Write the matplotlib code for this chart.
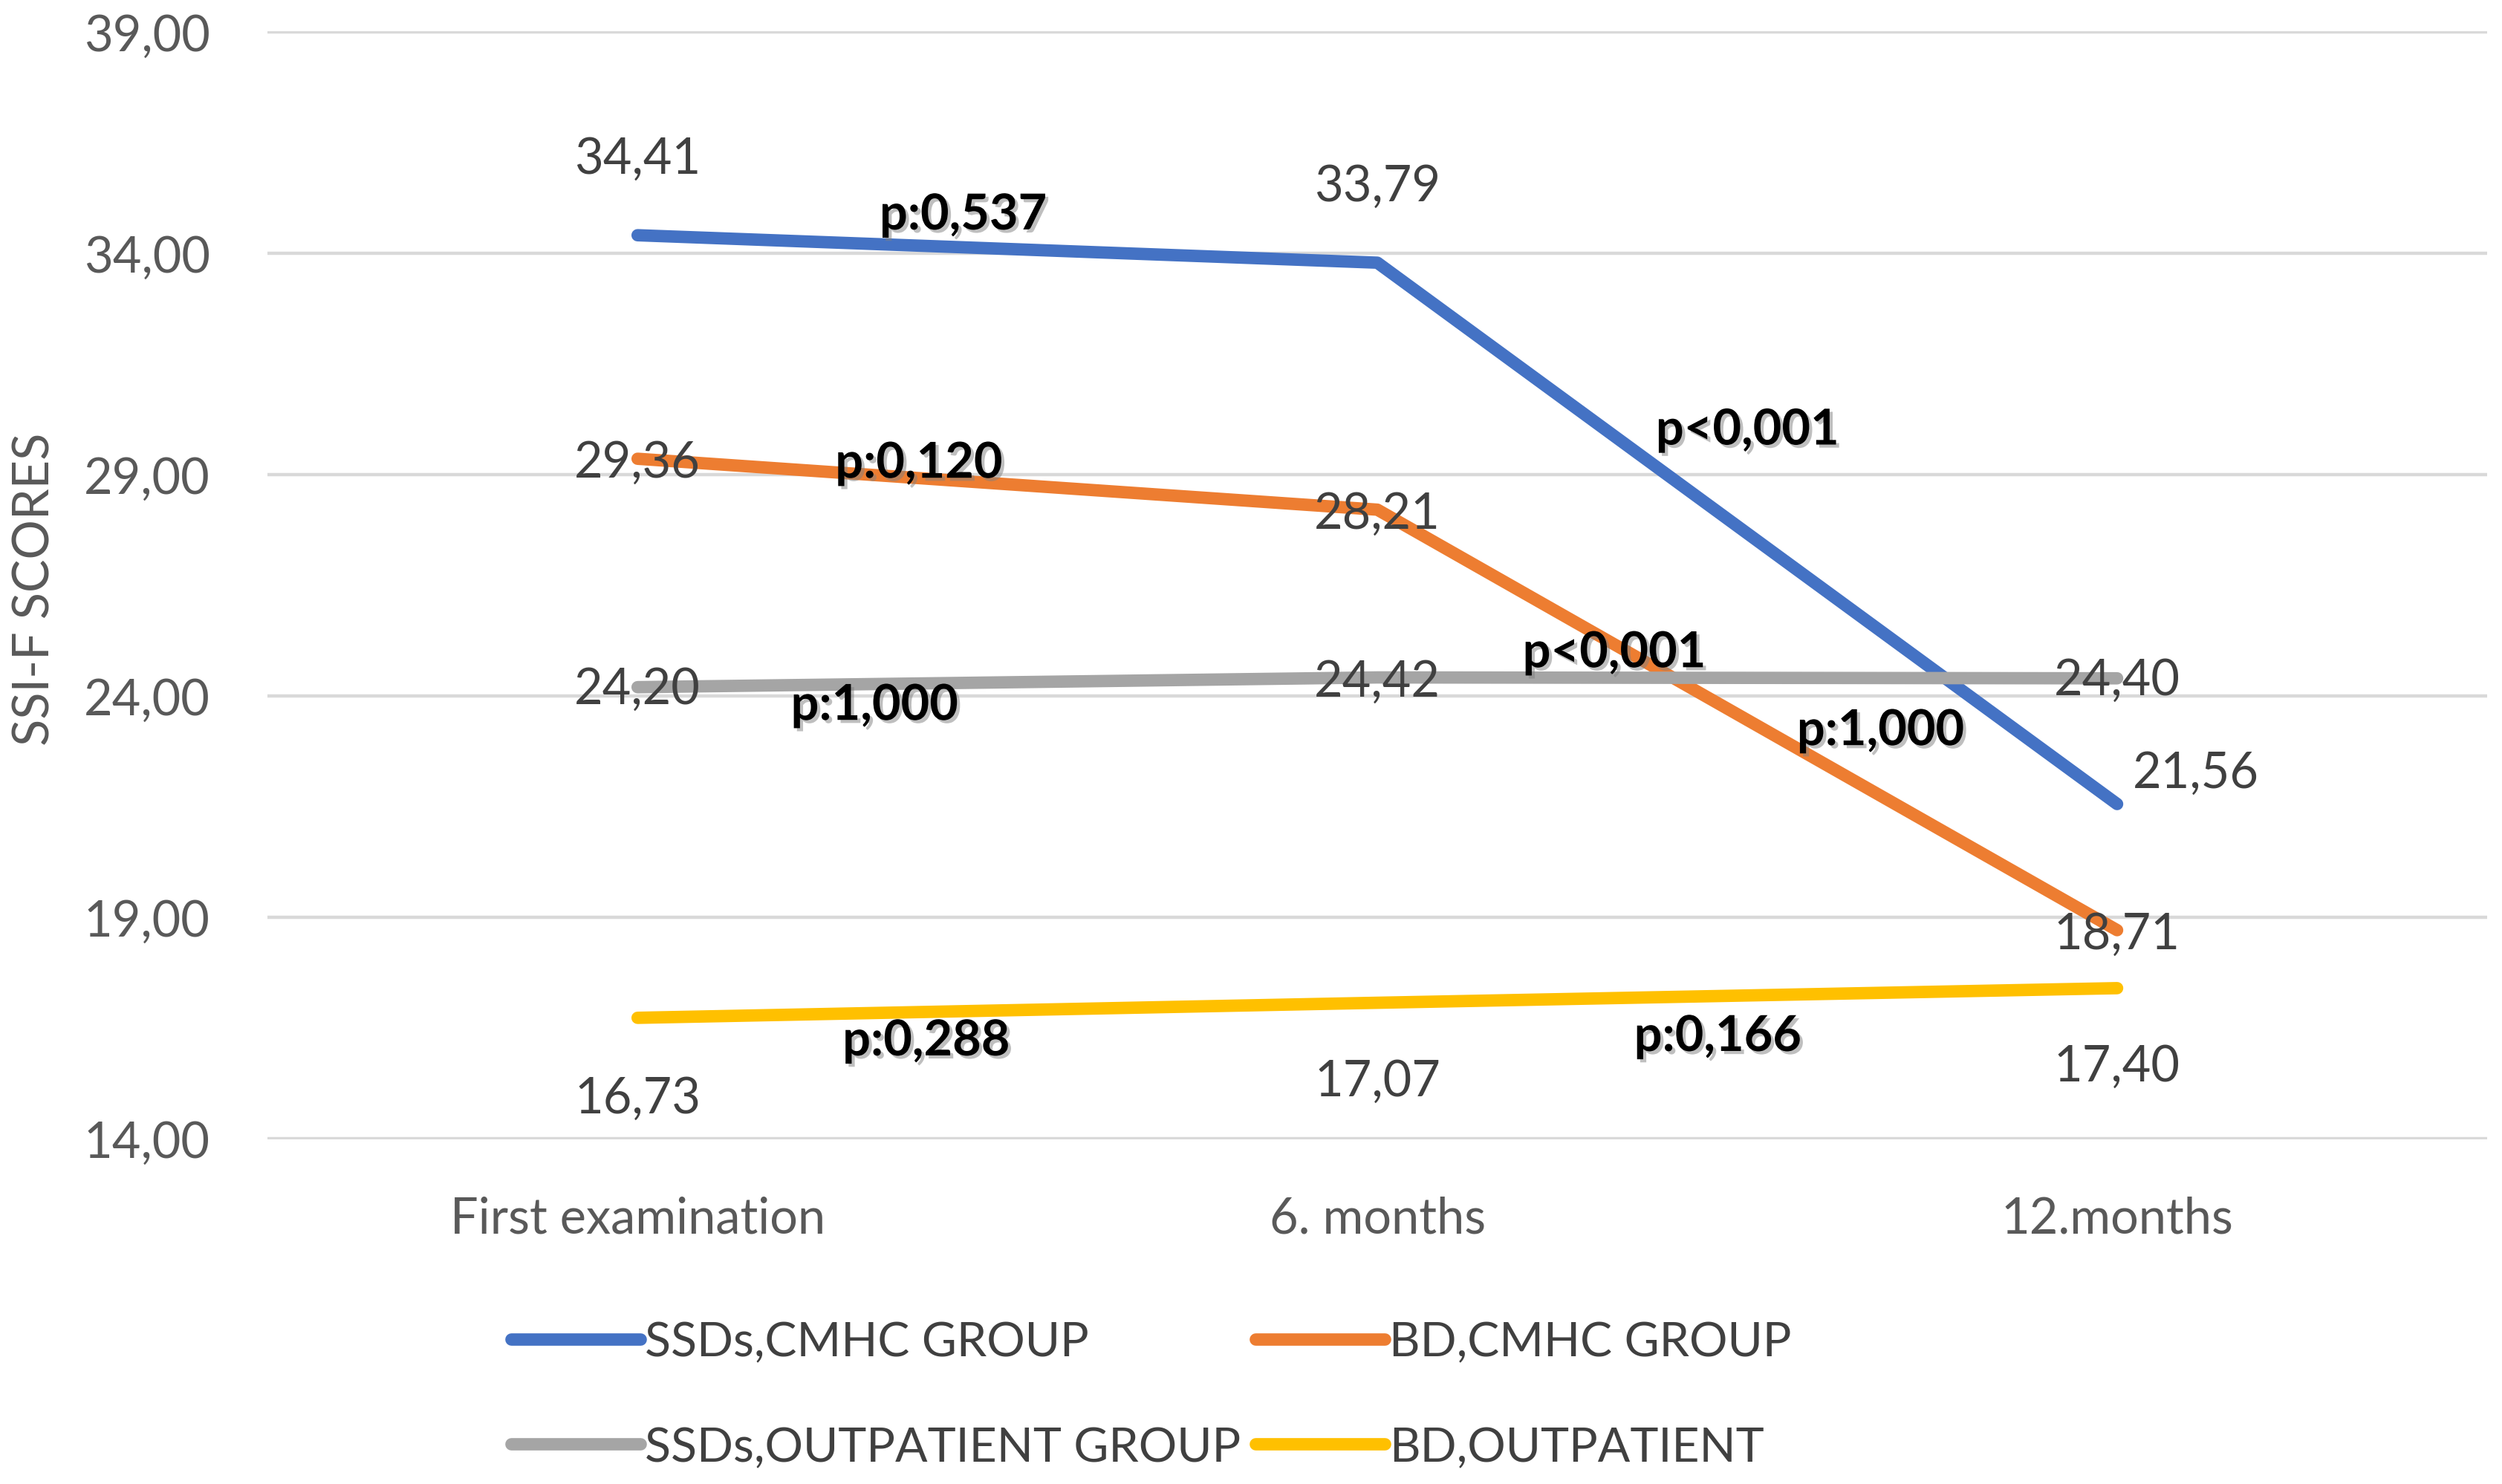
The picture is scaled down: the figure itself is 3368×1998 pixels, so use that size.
import matplotlib
matplotlib.use("Agg")
import matplotlib.pyplot as plt
import matplotlib.patheffects as pe

# ---- data ----
categories = ["First examination", "6. months", "12.months"]
ssds_cmhc = [34.41, 33.79, 21.56]
bd_cmhc = [29.36, 28.21, 18.71]
ssds_outpatient = [24.20, 24.42, 24.40]
bd_outpatient = [16.73, 17.07, 17.40]
series_names = ["SSDs,CMHC GROUP", "BD,CMHC GROUP", "SSDs,OUTPATIENT GROUP", "BD,OUTPATIENT"]
y_ticks = [14, 19, 24, 29, 34, 39]
y_tick_labels = ["14,00", "19,00", "24,00", "29,00", "34,00", "39,00"]
p_labels = ["p:0,537", "p<0,001", "p:0,120", "p<0,001", "p:1,000", "p:1,000", "p:0,288", "p:0,166"]
p_label_pos = [(0.44, 34.86), (1.50, 30.0), (0.38, 29.25), (1.32, 24.97),
               (0.32, 23.78), (1.68, 23.21), (0.39, 16.2), (1.46, 16.3)]

plt.rcParams['font.family'] = ['Lato', 'DejaVu Sans']

fig = plt.figure(figsize=(16.84, 9.995), dpi=200)
ax = fig.add_axes([0.107, 0.232, 0.887, 0.7465])

colors = ["#4472C4", "#ED7D31", "#A5A5A5", "#FFC000"]
all_series = [ssds_cmhc, bd_cmhc, ssds_outpatient, bd_outpatient]
x = list(range(len(categories)))

lines = []
for vals, c, name in zip(all_series, colors, series_names):
    ln, = ax.plot(x, vals, color=c, lw=6, solid_capstyle='round', label=name, zorder=3)
    lines.append(ln)

# data labels offsets (points): per series
offsets = [
    [(0, 37), (0, 37), (38, 15)],
    [(0, -2), (0, -2), (0, -2)],
    [(0, -1), (0, -2), (0, -1)],
    [(0, -39), (0, -38), (0, -38)],
]
lab_color = "#404040"
for vals, offs in zip(all_series, offsets):
    for xi, v, off in zip(x, vals, offs):
        ax.annotate(f"{v:.2f}".replace('.', ','), xy=(xi, v), xytext=off,
                    textcoords='offset points', ha='center', va='center',
                    fontsize=24, color=lab_color, zorder=5)

for txt, (px, py) in zip(p_labels, p_label_pos):
    ax.text(px, py, txt, ha='center', va='center', fontsize=24, fontweight='bold',
            color='black', zorder=6,
            path_effects=[pe.withSimplePatchShadow(offset=(1.5, -1.5), shadow_rgbFace='gray', alpha=0.5)])

ax.set_xlim(-0.5, 2.5)
ax.set_ylim(13.98, 39.02)
ax.set_yticks(y_ticks)
ax.set_yticklabels(y_tick_labels)
ax.set_xticks(x)
ax.set_xticklabels(categories)
ax.tick_params(axis='both', length=0, labelsize=24, labelcolor="#595959")
ax.tick_params(axis='x', pad=27)
ax.tick_params(axis='y', pad=28)
ax.grid(axis='y', color="#D9D9D9", lw=1.6, zorder=0)
ax.set_axisbelow(True)
for s in ax.spines.values():
    s.set_visible(False)

fig.text(0.014, 0.603, "SSI-F SCORES", rotation=90, ha='center', va='center',
         fontsize=24, color="#595959")

# legend: row-major order like the reference (matplotlib fills column-first)
order = [0, 2, 1, 3]
leg = fig.legend(handles=[lines[i] for i in order], labels=[series_names[i] for i in order],
                 ncol=2, loc='center left',
                 bbox_to_anchor=(0.187, 0.060), frameon=False, fontsize=23.2,
                 handlelength=2.7, handletextpad=0.1, columnspacing=0.3,
                 labelspacing=1.3, labelcolor="#404040")

fig.savefig("out.png", dpi=200)
